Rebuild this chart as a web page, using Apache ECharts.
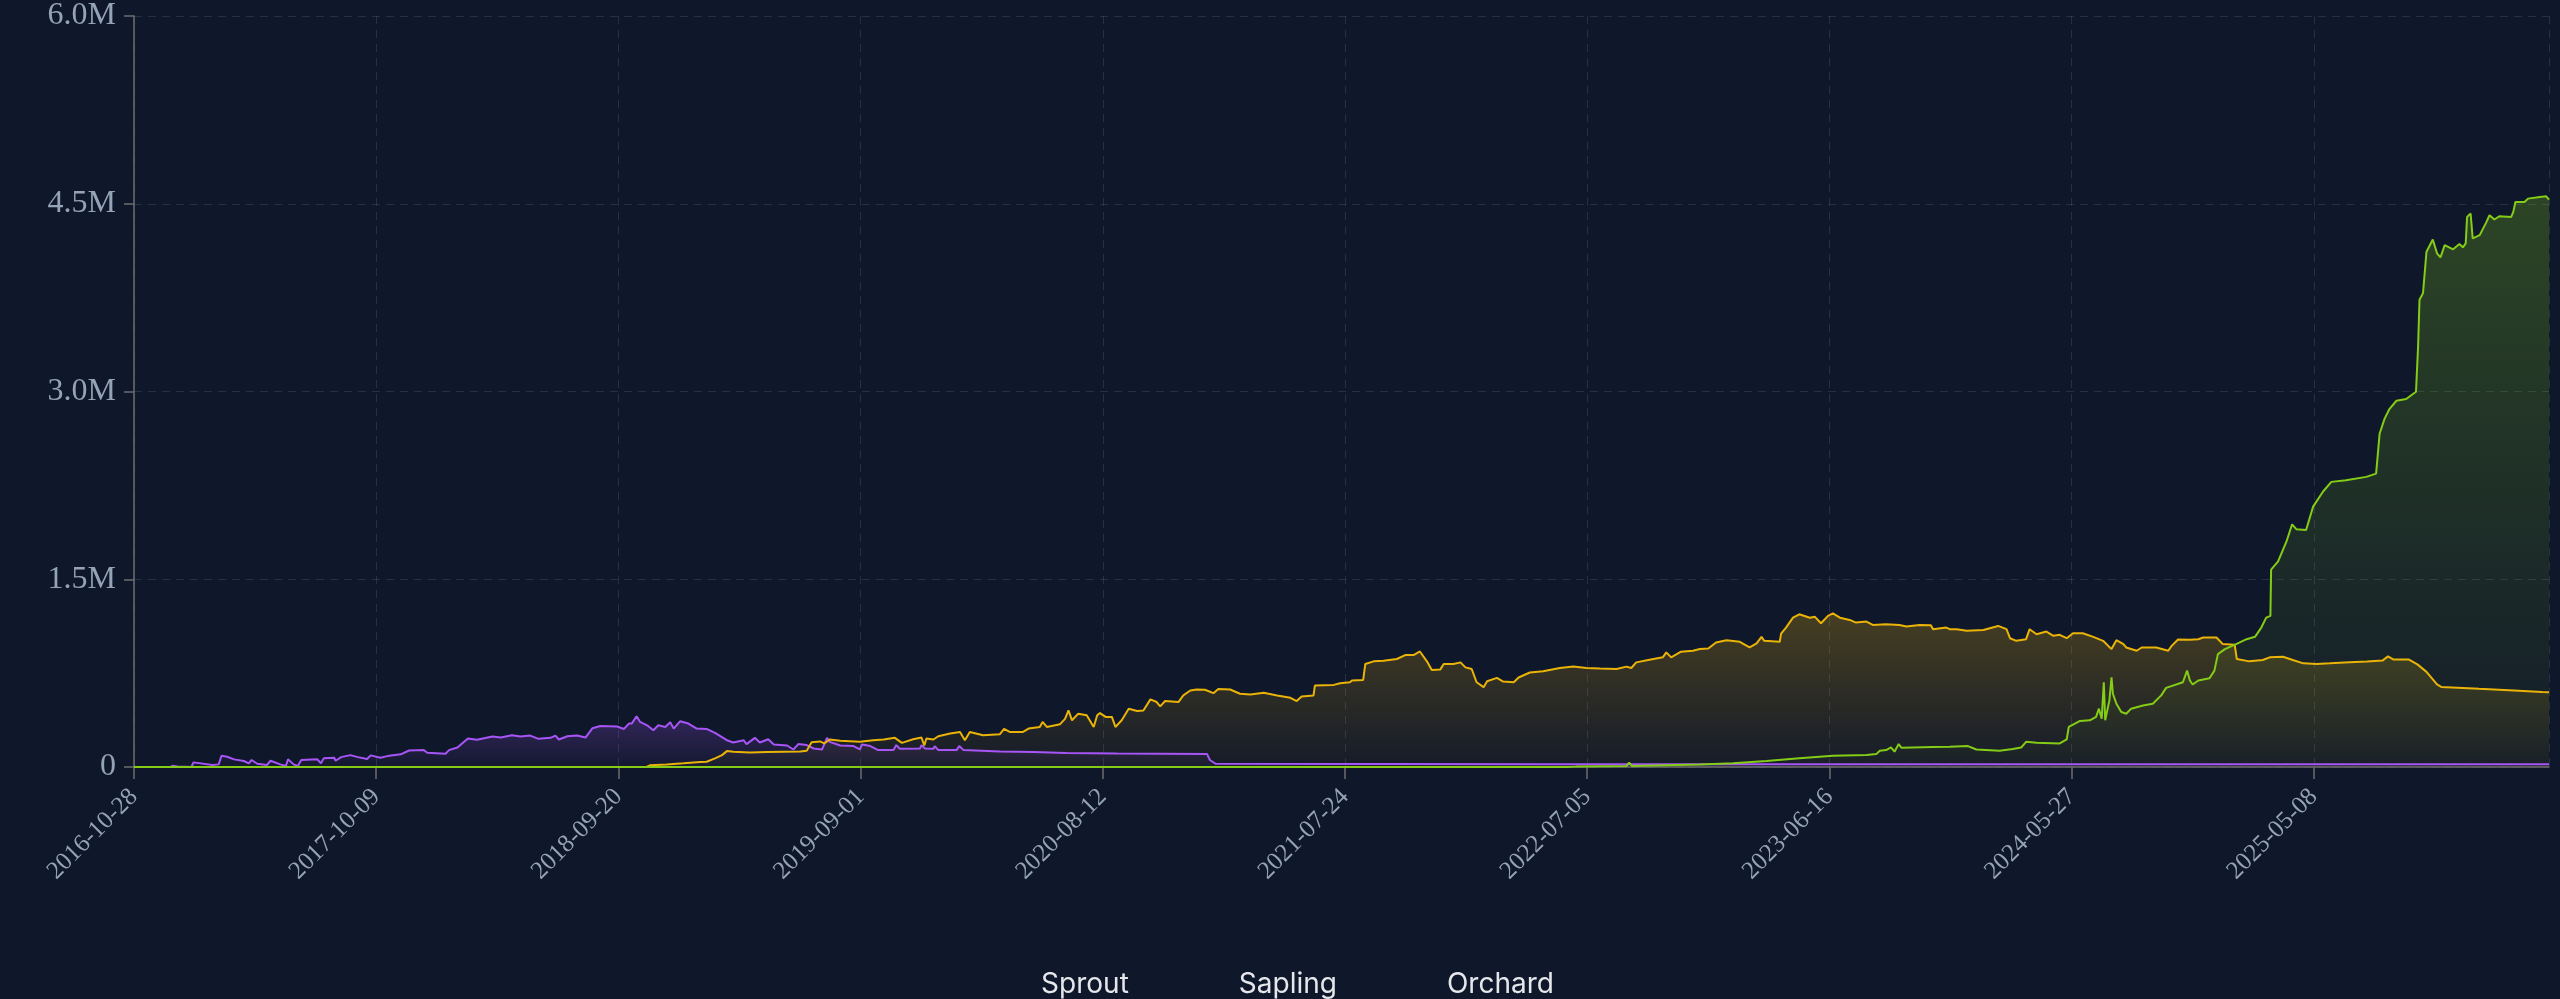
<!DOCTYPE html>
<html>
<head>
<meta charset="utf-8">
<script src="https://cdn.jsdelivr.net/npm/echarts@6.0.0/dist/echarts.min.js"></script>
<style>
  html, body { margin: 0; padding: 0; background: #0f172a; }
  #chart { width: 2560px; height: 999px; }
</style>
</head>
<body>
<div id="chart"></div>
<script>
// x = days since startDate, y = value in thousands
const startDate = '2016-10-28'
const dayStep = 346
const lastDay = 3450
const yTicks = [0, 1.5e6, 3e6, 4.5e6, 6e6]
const seriesNames = ['Sprout', 'Sapling', 'Orchard']

const sprout = [
  [0, 0], [52, 0], [55, 10], [62, 5], [82, 0], [85, 37], [112, 16], [121, 21], [125, 90], [133, 82],
  [143, 61], [157, 48], [164, 29], [168, 56], [176, 26], [190, 16], [195, 50], [209, 21], [217, 8], [220, 61],
  [228, 21], [234, 8], [239, 56], [262, 61], [267, 29], [271, 69], [286, 74], [288, 50], [296, 79], [309, 95],
  [320, 79], [333, 64], [338, 93], [352, 74], [362, 87], [381, 101], [393, 132], [414, 135], [419, 114], [445, 106],
  [450, 135], [462, 156], [477, 228], [490, 217], [512, 243], [524, 235], [540, 254], [552, 243], [566, 251], [578, 225],
  [595, 233], [602, 251], [607, 220], [619, 246], [633, 251], [645, 235], [655, 310], [666, 328], [690, 323], [700, 304],
  [707, 347], [711, 347], [718, 405], [723, 360], [733, 333], [742, 294], [749, 333], [759, 320], [766, 357], [771, 307],
  [780, 365], [792, 347], [804, 307], [818, 304], [830, 273], [847, 214], [856, 196], [871, 214], [875, 183], [887, 233],
  [894, 196], [906, 222], [914, 180], [933, 172], [942, 140], [949, 183], [961, 175], [971, 148], [983, 140], [990, 233],
  [994, 201], [1009, 172], [1028, 167], [1037, 140], [1040, 180], [1052, 167], [1063, 135], [1085, 135], [1089, 175], [1094, 146],
  [1123, 148], [1125, 175], [1130, 148], [1142, 146], [1144, 167], [1149, 135], [1175, 135], [1179, 167], [1185, 135], [1237, 124],
  [1285, 119], [1332, 112], [1404, 108], [1533, 103], [1537, 56], [1545, 26], [2023, 22], [3450, 21]
]

const sapling = [
  [0, 0], [732, 0], [737, 13], [761, 19], [785, 29], [809, 40], [818, 42], [830, 69], [840, 95], [847, 127],
  [856, 122], [880, 116], [904, 119], [928, 122], [952, 124], [961, 130], [968, 198], [980, 204], [986, 188], [994, 220],
  [1009, 209], [1037, 201], [1056, 214], [1071, 220], [1087, 233], [1097, 193], [1113, 222], [1125, 235], [1129, 172], [1132, 228],
  [1142, 220], [1149, 246], [1166, 267], [1180, 280], [1187, 214], [1194, 280], [1213, 254], [1237, 262], [1243, 304], [1251, 280],
  [1270, 280], [1278, 307], [1294, 320], [1298, 360], [1304, 320], [1323, 342], [1330, 384], [1335, 452], [1340, 373], [1349, 426],
  [1361, 413], [1371, 320], [1376, 413], [1380, 431], [1388, 400], [1397, 400], [1402, 320], [1411, 373], [1421, 466], [1433, 447],
  [1442, 452], [1452, 540], [1461, 519], [1466, 484], [1473, 527], [1492, 519], [1499, 572], [1509, 611], [1518, 619], [1530, 617],
  [1542, 590], [1549, 624], [1566, 619], [1580, 585], [1595, 580], [1614, 593], [1633, 572], [1652, 553], [1661, 527], [1668, 564],
  [1685, 572], [1687, 651], [1714, 656], [1723, 669], [1737, 677], [1740, 691], [1756, 696], [1759, 823], [1771, 844], [1785, 849],
  [1804, 863], [1816, 894], [1828, 894], [1837, 923], [1847, 844], [1854, 775], [1866, 778], [1871, 823], [1885, 823], [1895, 836],
  [1902, 796], [1911, 783], [1918, 677], [1928, 638], [1933, 685], [1947, 712], [1956, 683], [1971, 677], [1978, 715], [1994, 755],
  [2013, 765], [2037, 791], [2056, 802], [2075, 791], [2094, 786], [2118, 783], [2132, 802], [2139, 791], [2146, 836], [2165, 857],
  [2184, 876], [2189, 916], [2196, 876], [2210, 921], [2227, 929], [2237, 942], [2249, 947], [2260, 995], [2275, 1013], [2294, 1000],
  [2308, 955], [2318, 987], [2325, 1040], [2329, 1008], [2351, 1000], [2353, 1066], [2360, 1114], [2370, 1193], [2379, 1220], [2394, 1193],
  [2401, 1201], [2410, 1148], [2420, 1207], [2427, 1228], [2437, 1193], [2451, 1175], [2460, 1154], [2475, 1162], [2484, 1135], [2503, 1140],
  [2522, 1135], [2532, 1122], [2551, 1135], [2567, 1132], [2570, 1101], [2589, 1114], [2594, 1101], [2604, 1101], [2618, 1088], [2642, 1095],
  [2663, 1127], [2675, 1101], [2680, 1029], [2689, 1008], [2703, 1021], [2708, 1101], [2718, 1061], [2732, 1082], [2742, 1048], [2751, 1056],
  [2761, 1029], [2770, 1069], [2784, 1069], [2799, 1040], [2813, 1008], [2825, 942], [2832, 1013], [2842, 982], [2846, 955], [2861, 929],
  [2868, 955], [2889, 955], [2906, 929], [2911, 968], [2920, 1019], [2937, 1016], [2949, 1021], [2956, 1035], [2975, 1035], [2984, 982],
  [3001, 976], [3004, 863], [3022, 844], [3041, 855], [3051, 876], [3070, 881], [3084, 855], [3099, 828], [3118, 823], [3137, 828],
  [3165, 836], [3190, 842], [3212, 850], [3220, 884], [3228, 858], [3250, 858], [3262, 820], [3275, 760], [3290, 660], [3296, 640],
  [3350, 625], [3400, 612], [3440, 600], [3450, 598]
]

const orchard = [
  [0, 0], [2046, 0], [2060, 3], [2132, 8], [2136, 35], [2140, 8], [2237, 19], [2284, 29], [2332, 48], [2379, 69],
  [2427, 90], [2475, 95], [2489, 103], [2494, 130], [2503, 135], [2510, 156], [2515, 122], [2521, 183], [2525, 153], [2570, 159],
  [2594, 161], [2620, 167], [2632, 140], [2665, 130], [2684, 143], [2696, 156], [2703, 201], [2718, 193], [2751, 188], [2761, 220],
  [2764, 320], [2780, 368], [2794, 373], [2803, 400], [2807, 466], [2811, 386], [2814, 677], [2816, 373], [2822, 532], [2825, 717],
  [2827, 585], [2832, 505], [2839, 439], [2846, 426], [2853, 466], [2870, 492], [2884, 505], [2896, 572], [2903, 632], [2927, 677],
  [2933, 770], [2937, 691], [2941, 659], [2949, 691], [2965, 709], [2972, 770], [2977, 902], [2987, 942], [3003, 982], [3018, 1021],
  [3030, 1040], [3039, 1114], [3046, 1193], [3052, 1207], [3053, 1577], [3063, 1643], [3075, 1802], [3083, 1939], [3089, 1900], [3103, 1894],
  [3113, 2080], [3127, 2199], [3139, 2278], [3160, 2291], [3189, 2318], [3203, 2344], [3208, 2662], [3215, 2781], [3222, 2860], [3232, 2926],
  [3246, 2940], [3260, 2998], [3263, 3363], [3265, 3733], [3270, 3786], [3275, 4117], [3284, 4215], [3290, 4104], [3295, 4072], [3301, 4170],
  [3313, 4136], [3322, 4178], [3327, 4152], [3331, 4183], [3333, 4395], [3338, 4422], [3341, 4223], [3351, 4249], [3360, 4347], [3365, 4408],
  [3372, 4374], [3379, 4400], [3396, 4395], [3399, 4435], [3402, 4514], [3415, 4514], [3420, 4541], [3437, 4554], [3446, 4559], [3450, 4533]
]

const colors = ['#a855f7', '#eab308', '#84cc16']

function dayLabel(d) {
  const t = new Date(startDate + 'T00:00:00Z').getTime() + d * 86400000
  return new Date(t).toISOString().slice(0, 10)
}

function toSeries(name, pts, color, topAlpha) {
  const rgb = echarts.color.parse(color)
  return {
    name: name,
    type: 'line',
    showSymbol: false,
    data: pts.map(p => [p[0], p[1] * 1000]),
    lineStyle: { color: color, width: 2 },
    itemStyle: { color: color },
    areaStyle: {
      color: new echarts.graphic.LinearGradient(0, 0, 0, 1, [
        { offset: 0, color: `rgba(${rgb[0]},${rgb[1]},${rgb[2]},${topAlpha})` },
        { offset: 1, color: `rgba(${rgb[0]},${rgb[1]},${rgb[2]},0.04)` },
      ]),
    },
  }
}

const chart = echarts.init(document.getElementById('chart'))
chart.setOption({
  backgroundColor: '#0f172a',
  animation: false,
  grid: { left: 134, right: 11, top: 13, bottom: 232 },
  legend: {
    data: seriesNames,
    top: 966,
    left: 'center',
    icon: 'rect',
    itemWidth: 30,
    itemHeight: 14,
    itemGap: 75,
    itemStyle: { opacity: 0 },
    textStyle: { color: '#e5e7eb', fontSize: 28, fontFamily: 'Inter, sans-serif' },
  },
  xAxis: {
    type: 'value',
    min: 0,
    max: lastDay,
    interval: dayStep,
    axisLine: { show: true, lineStyle: { color: '#6e6e6e', width: 1.5 } },
    axisTick: { show: true, length: 12, lineStyle: { color: '#6e6e6e', width: 1.5 } },
    axisLabel: {
      rotate: 45,
      margin: 26,
      showMaxLabel: false,
      color: '#94a3b8',
      fontSize: 25,
      fontFamily: '"Liberation Serif", serif',
      formatter: v => dayLabel(v),
    },
    splitLine: { show: true, lineStyle: { color: 'rgba(148,163,184,0.18)', type: [8, 6] } },
  },
  yAxis: {
    type: 'value',
    min: yTicks[0],
    max: yTicks[yTicks.length - 1],
    interval: yTicks[1] - yTicks[0],
    axisLine: { show: true, lineStyle: { color: '#6e6e6e', width: 1.5 } },
    axisTick: { show: true, length: 10, lineStyle: { color: '#6e6e6e', width: 1.5 } },
    axisLabel: {
      margin: 18,
      color: '#94a3b8',
      fontSize: 32,
      fontFamily: '"Liberation Serif", serif',
      formatter: v => (v === 0 ? '0' : (v / 1e6).toFixed(1) + 'M'),
    },
    splitLine: { show: true, lineStyle: { color: 'rgba(148,163,184,0.18)', type: [8, 6] } },
  },
  series: [
    toSeries(seriesNames[0], sprout, colors[0], 0.34),
    toSeries(seriesNames[1], sapling, colors[1], 0.36),
    toSeries(seriesNames[2], orchard, colors[2], 0.36),
  ],
})
</script>
</body>
</html>
